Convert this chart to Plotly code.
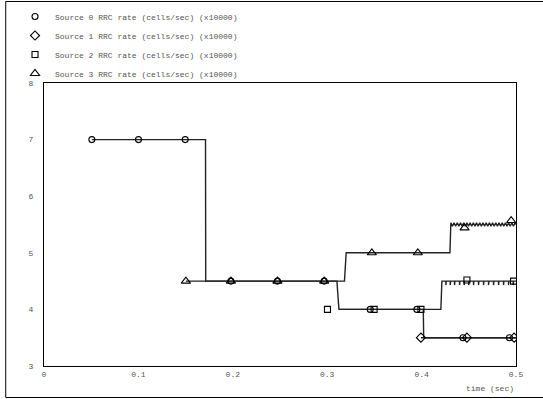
import plotly.graph_objects as go

# ---- data (time in sec, rate in cells/sec x10000) ----
names = ["Source 0 RRC rate (cells/sec) (x10000)",
         "Source 1 RRC rate (cells/sec) (x10000)",
         "Source 2 RRC rate (cells/sec) (x10000)",
         "Source 3 RRC rate (cells/sec) (x10000)"]

# step-line traces
s0_t = [0.0507, 0.1711, 0.1713, 0.3103, 0.3124, 0.4018, 0.4022, 0.5]
s0_v = [7, 7, 4.5, 4.5, 4, 4, 3.5, 3.5]

s1_t = [0.3993, 0.5]
s1_v = [3.5, 3.5]

s2_t = [0.3124, 0.4204, 0.4215,
        0.4257, 0.4257, 0.4261, 0.4303, 0.4303, 0.4307, 0.4349, 0.4349, 0.4353,
        0.4402, 0.4402, 0.4406, 0.4451, 0.4451, 0.4455, 0.4499, 0.4499, 0.4503,
        0.4550, 0.4550, 0.4554, 0.4603, 0.4603, 0.4607, 0.4656, 0.4656, 0.4660,
        0.4709, 0.4709, 0.4713, 0.4762, 0.4762, 0.4766, 0.4815, 0.4815, 0.4819,
        0.4868, 0.4868, 0.4872, 0.4921, 0.4921, 0.4925, 0.4970, 0.4970, 0.4974,
        0.5]
s2_v = [4, 4, 4.5,
        4.5, 4.43, 4.5, 4.5, 4.43, 4.5, 4.5, 4.43, 4.5,
        4.5, 4.43, 4.5, 4.5, 4.43, 4.5, 4.5, 4.43, 4.5,
        4.5, 4.43, 4.5, 4.5, 4.43, 4.5, 4.5, 4.43, 4.5,
        4.5, 4.43, 4.5, 4.5, 4.43, 4.5, 4.5, 4.43, 4.5,
        4.5, 4.43, 4.5, 4.5, 4.43, 4.5, 4.5, 4.43, 4.5,
        4.5]

s3_t = [0.1503, 0.3183, 0.3201, 0.4300, 0.4310,
        0.4327, 0.4344, 0.4361, 0.4378, 0.4395, 0.4412, 0.4429, 0.4446, 0.4463,
        0.4480, 0.4497, 0.4514, 0.4531, 0.4548, 0.4565, 0.4582, 0.4599, 0.4616,
        0.4633, 0.4650, 0.4667, 0.4684, 0.4701, 0.4718, 0.4735, 0.4752, 0.4769,
        0.4786, 0.4803, 0.4820, 0.4837, 0.4854, 0.4871, 0.4888, 0.4905, 0.4922,
        0.4939, 0.4956, 0.4973, 0.4990, 0.5000]
s3_v = [4.5, 4.5, 5, 5, 5.53,
        5.47, 5.53, 5.47, 5.53, 5.47, 5.53, 5.47, 5.53, 5.47,
        5.53, 5.47, 5.53, 5.47, 5.53, 5.47, 5.53, 5.47, 5.53,
        5.47, 5.53, 5.47, 5.53, 5.47, 5.53, 5.47, 5.53, 5.47,
        5.53, 5.47, 5.53, 5.47, 5.53, 5.47, 5.53, 5.47, 5.53,
        5.47, 5.53, 5.47, 5.53, 5.5]

# sampled points (markers)
m0_t = [0.0507, 0.1001, 0.1496, 0.198, 0.2473, 0.2968, 0.3456, 0.395, 0.4438, 0.4931]
m0_v = [7, 7, 7, 4.5, 4.5, 4.5, 4, 4, 3.5, 3.5]
m1_t = [0.3993, 0.448, 0.498]
m1_v = [3.5, 3.5, 3.5]
m2_t = [0.3003, 0.3497, 0.3993, 0.448, 0.4974]
m2_v = [4, 4, 4, 4.52, 4.5]
m3_t = [0.1503, 0.198, 0.2473, 0.2968, 0.3473, 0.396, 0.4455, 0.4949]
m3_v = [4.5, 4.5, 4.5, 4.5, 5, 5, 5.44, 5.57]

x_ticks = [0, 0.1, 0.2, 0.3, 0.4, 0.5]
x_ticktext = ["0", "0.1", "0.2", "0.3", "0.4", "0.5"]
y_ticks = [3, 4, 5, 6, 7, 8]

lines = [(s0_t, s0_v), (s1_t, s1_v), (s2_t, s2_v), (s3_t, s3_v)]
marks = [(m0_t, m0_v), (m1_t, m1_v), (m2_t, m2_v), (m3_t, m3_v)]
symbols = ["circle-open", "diamond-open", "square-open", "triangle-up-open"]
sizes = [6, 7, 6, 8]

FONT = "Liberation Mono"
GRAY = "#555555"

fig = go.Figure()
for (t, v) in lines:
    fig.add_trace(go.Scatter(x=t, y=v, mode="lines", showlegend=False,
                             line=dict(color="#222222", width=1.4),
                             hoverinfo="skip"))
for i, (t, v) in enumerate(marks):
    fig.add_trace(go.Scatter(x=t, y=v, mode="markers", name=names[i],
                             marker=dict(symbol=symbols[i], size=sizes[i],
                                         color="black",
                                         line=dict(color="black", width=1.1))))

fig.update_layout(
    width=543, height=399,
    margin=dict(l=44, r=27, t=83, b=33, autoexpand=False),
    paper_bgcolor="white", plot_bgcolor="white",
    font=dict(family=FONT, size=8, color=GRAY),
    showlegend=True,
    legend=dict(xref="container", yref="container",
                x=15 / 543, y=1 - 2 / 399, xanchor="left", yanchor="top",
                bgcolor="rgba(0,0,0,0)", borderwidth=0,
                font=dict(family=FONT, size=8, color=GRAY),
                traceorder="normal"),
    xaxis=dict(range=[0, 0.5], tickvals=x_ticks, ticktext=x_ticktext,
               showline=True, mirror=True, linecolor="black", linewidth=1.3,
               showgrid=False, zeroline=False, ticks="",
               ticklabelstandoff=0,
               tickfont=dict(family=FONT, size=8, color=GRAY)),
    yaxis=dict(range=[3, 8], tickvals=y_ticks,
               showline=True, mirror=True, linecolor="black", linewidth=1.3,
               showgrid=False, zeroline=False, ticks="",
               ticklabelstandoff=8,
               tickfont=dict(family=FONT, size=8, color=GRAY)),
    annotations=[dict(text="time (sec)", xref="paper", yref="paper",
                      x=1, y=-0.078, xanchor="right", yanchor="middle",
                      showarrow=False,
                      font=dict(family=FONT, size=8, color=GRAY))],
    shapes=[dict(type="rect", xref="paper", yref="paper",
                 x0=-0.0811, x1=1.06, y0=-0.1113, y1=1.288,
                 line=dict(color="black", width=1))],
)

fig.write_html("out.html")
